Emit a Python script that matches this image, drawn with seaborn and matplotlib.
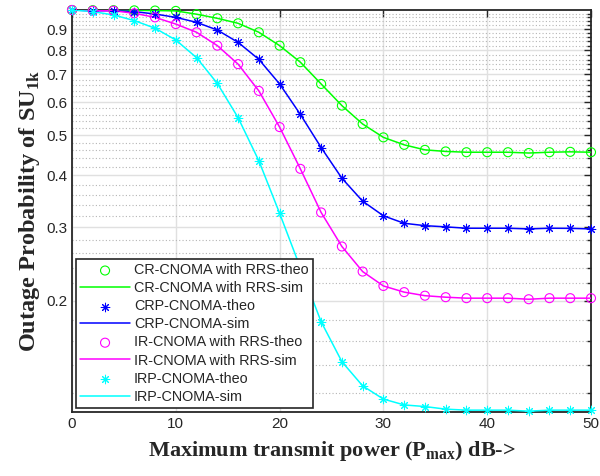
import numpy as np
import pandas as pd
import matplotlib
matplotlib.use("Agg")
import matplotlib.pyplot as plt
import seaborn as sns
from matplotlib.ticker import FixedLocator, NullFormatter

# data (outage probability vs Pmax in dB)
power_db = [0, 2, 4, 6, 8, 10, 12, 14, 16, 18, 20, 22, 24, 26, 28, 30,
            32, 34, 36, 38, 40, 42, 44, 46, 48, 50]
cr_rrs = [1.0, 0.999, 0.999, 0.998, 0.997, 0.995, 0.977, 0.955, 0.929, 0.884,
          0.821, 0.749, 0.664, 0.589, 0.532, 0.494, 0.474, 0.461, 0.457, 0.455,
          0.455, 0.455, 0.453, 0.455, 0.456, 0.455]
crp = [1.0, 0.996, 0.996, 0.991, 0.978, 0.960, 0.934, 0.895, 0.836, 0.761,
       0.664, 0.561, 0.467, 0.394, 0.347, 0.320, 0.307, 0.303, 0.301, 0.2987,
       0.2987, 0.2987, 0.2976, 0.2987, 0.2985, 0.2976]
ir_rrs = [1.0, 0.996, 0.996, 0.982, 0.960, 0.925, 0.884, 0.821, 0.741, 0.639,
          0.523, 0.415, 0.326, 0.270, 0.235, 0.217, 0.2097, 0.2056, 0.2039, 0.2028,
          0.2028, 0.2028, 0.2016, 0.2028, 0.2028, 0.2028]
irp = [1.0, 0.991, 0.973, 0.943, 0.904, 0.847, 0.768, 0.666, 0.551, 0.434,
       0.3245, 0.240, 0.178, 0.1427, 0.1248, 0.116, 0.1123, 0.1113, 0.1097, 0.1091,
       0.1091, 0.1091, 0.1085, 0.1091, 0.1091, 0.1091]

series = [
    ("CR-CNOMA with RRS", cr_rrs, "#00ff00", "o"),
    ("CRP-CNOMA", crp, "#0000ff", "*"),
    ("IR-CNOMA with RRS", ir_rrs, "#ff00ff", "o"),
    ("IRP-CNOMA", irp, "#00ffff", "*"),
]
y_major = [0.2, 0.3, 0.4, 0.5, 0.6, 0.7, 0.8, 0.9]

sns.set_style("white")
plt.rcParams["font.family"] = ["Liberation Sans", "DejaVu Sans"]
plt.rcParams["mathtext.fontset"] = "custom"
plt.rcParams["mathtext.rm"] = "Liberation Serif"
plt.rcParams["mathtext.bf"] = "Liberation Serif:bold"

fig = plt.figure(figsize=(6, 4.76), dpi=100)
ax = fig.add_axes([0.12, 0.1345, 0.865, 0.8445])

handles = []
for name, vals, col, mk in series:
    df = pd.DataFrame({"p": power_db, "out": vals})
    sns.lineplot(data=df, x="p", y="out", ax=ax, color=col, linewidth=1.1,
                 label=name + "-sim", zorder=3)
    sim_h = ax.get_lines()[-1]
    if mk == "o":
        sns.scatterplot(data=df, x="p", y="out", ax=ax, marker="o", s=42,
                        facecolors="none", edgecolor=col, linewidth=0.8,
                        label=name + "-theo", zorder=4, clip_on=False)
    else:
        sns.scatterplot(data=df, x="p", y="out", ax=ax, marker=(8, 2, 0), s=38,
                        color=col, edgecolor=col, linewidth=0.75,
                        label=name + "-theo", zorder=4, clip_on=False)
    theo_h = ax.collections[-1]
    handles += [theo_h, sim_h]

ax.set_yscale("log")
ax.set_xlim(0, 50)
ax.set_ylim(0.108, 1.0)
ax.set_xticks([0, 10, 20, 30, 40, 50])
ax.yaxis.set_major_locator(FixedLocator(y_major))
ax.set_yticklabels([str(v) for v in y_major])
minor = [round(v, 2) for v in np.arange(0.12, 1.0, 0.02)
         if min(abs(v - m) for m in y_major + [1.0]) > 1e-6]
ax.yaxis.set_minor_locator(FixedLocator(minor))
ax.yaxis.set_minor_formatter(NullFormatter())

ax.grid(True, which="major", color="#e0e0e0", linewidth=1.0, linestyle="-")
ax.grid(True, which="minor", axis="y", color="#b5b5b5", linewidth=0.8, linestyle=(0, (1, 2)))
ax.set_axisbelow(True)

ax.tick_params(axis="both", which="both", direction="in", top=True, right=True,
               colors="#262626", labelsize=11, width=1.0)
ax.tick_params(which="major", length=5)
ax.tick_params(which="minor", length=3)
for sp in ax.spines.values():
    sp.set_color("#262626")
    sp.set_linewidth(1.3)

ax.set_xlabel(r"Maximum transmit power (P$_{\mathbf{max}}$) dB->",
              fontfamily="Liberation Serif", fontweight="bold", fontsize=16, labelpad=6)
ax.set_ylabel(r"Outage Probability of SU$_{\mathbf{1k}}$",
              fontfamily="Liberation Serif", fontweight="bold", fontsize=17.5, labelpad=3)

leg = ax.legend(handles=handles, labels=[h.get_label() for h in handles],
                loc="lower left", bbox_to_anchor=(0.008, 0.01), fontsize=10.4,
                frameon=True, fancybox=False, framealpha=1, edgecolor="#262626",
                handlelength=3.4, handletextpad=0.3, labelspacing=0.28,
                borderpad=0.3, borderaxespad=0)
leg.get_frame().set_linewidth(1.2)

plt.savefig("out.png", dpi=100)
